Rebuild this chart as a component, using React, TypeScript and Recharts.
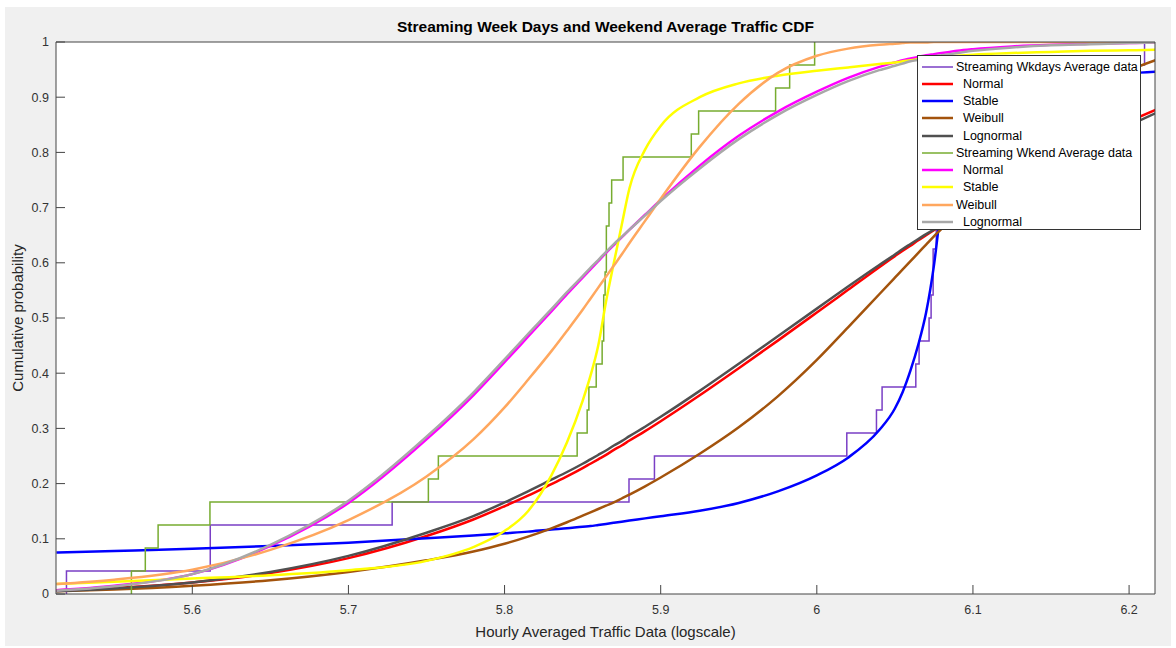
import React from 'react';
import { LineChart, Line, XAxis, YAxis, CartesianGrid, Legend } from 'recharts';

const FONT = '"Liberation Sans", Arial, Helvetica, sans-serif';

const xTicks = [5.6, 5.7, 5.8, 5.9, 6, 6.1, 6.2];
const yTicks = [0, 0.1, 0.2, 0.3, 0.4, 0.5, 0.6, 0.7, 0.8, 0.9, 1];
const xDomain = [5.5127, 6.2166];

// sorted hourly averages (log scale), 24 per group
const wkdaysObs = [
  5.5194, 5.6115, 5.6115, 5.728, 5.8797, 5.896, 6.0192, 6.0382, 6.0418, 6.0634, 6.0655, 6.0719,
  6.0732, 6.0745, 6.0745, 6.0765, 6.077, 6.0775, 6.078, 6.079, 6.08, 6.0805, 6.081, 6.2099,
];
const wkendObs = [
  5.561, 5.5699, 5.5781, 5.6113, 5.7512, 5.7576, 5.8465, 5.8529, 5.854, 5.8587, 5.8625, 5.8635,
  5.8635, 5.8644, 5.8652, 5.8652, 5.8669, 5.8686, 5.8759, 5.9196, 5.9243, 5.9736, 5.9826, 5.9986,
];
const cdfLevels = [
  0.0417, 0.0833, 0.125, 0.1667, 0.2083, 0.25, 0.2917, 0.3333, 0.375, 0.4167, 0.4583, 0.5,
  0.5417, 0.5833, 0.625, 0.6667, 0.7083, 0.75, 0.7917, 0.8333, 0.875, 0.9167, 0.9583, 1,
];

// fitted CDFs, read on a common x grid
const fitX = [
  5.513, 5.55, 5.6, 5.65, 5.7, 5.75, 5.78, 5.8, 5.815, 5.83, 5.84, 5.85, 5.855, 5.86, 5.865, 5.87,
  5.875, 5.88, 5.89, 5.9, 5.925, 5.95, 5.975, 6.0, 6.02, 6.04, 6.05, 6.055, 6.06, 6.065, 6.07,
  6.075, 6.08, 6.085, 6.09, 6.1, 6.125, 6.15, 6.175, 6.2, 6.217,
];
const wkdNormal = [
  0.007, 0.011, 0.021, 0.038, 0.065, 0.105, 0.135, 0.159, 0.178, 0.199, 0.213, 0.228, 0.236, 0.244,
  0.252, 0.261, 0.269, 0.278, 0.295, 0.313, 0.36, 0.409, 0.459, 0.51, 0.551, 0.592, 0.612, 0.622,
  0.631, 0.641, 0.65, 0.659, 0.668, 0.677, 0.686, 0.703, 0.745, 0.785, 0.822, 0.856, 0.877,
];
const wkdStable = [
  0.075, 0.078, 0.082, 0.087, 0.093, 0.101, 0.106, 0.11, 0.113, 0.117, 0.119, 0.122, 0.123, 0.125,
  0.127, 0.129, 0.131, 0.133, 0.137, 0.141, 0.151, 0.165, 0.186, 0.215, 0.247, 0.297, 0.336, 0.366,
  0.405, 0.452, 0.51, 0.595, 0.71, 0.79, 0.835, 0.875, 0.91, 0.926, 0.936, 0.943, 0.946,
];
const wkdWeibull = [
  0.005, 0.008, 0.015, 0.025, 0.04, 0.061, 0.077, 0.091, 0.104, 0.119, 0.13, 0.142, 0.148, 0.154,
  0.16, 0.166, 0.173, 0.18, 0.195, 0.211, 0.254, 0.302, 0.358, 0.424, 0.483, 0.543, 0.573, 0.588,
  0.603, 0.618, 0.633, 0.648, 0.662, 0.677, 0.691, 0.719, 0.789, 0.851, 0.905, 0.948, 0.967,
];
const wkdLognormal = [
  0.005, 0.01, 0.021, 0.04, 0.069, 0.111, 0.141, 0.166, 0.186, 0.207, 0.221, 0.236, 0.244, 0.252,
  0.26, 0.269, 0.277, 0.286, 0.303, 0.321, 0.368, 0.417, 0.467, 0.517, 0.557, 0.596, 0.615, 0.625,
  0.634, 0.643, 0.652, 0.66, 0.668, 0.677, 0.685, 0.701, 0.741, 0.779, 0.815, 0.849, 0.871,
];
const wkeNormal = [
  0.007, 0.015, 0.036, 0.087, 0.165, 0.28, 0.36, 0.42, 0.466, 0.512, 0.543, 0.573, 0.588, 0.603,
  0.618, 0.632, 0.646, 0.66, 0.687, 0.714, 0.776, 0.83, 0.874, 0.91, 0.935, 0.955, 0.963, 0.967,
  0.97, 0.973, 0.976, 0.978, 0.98, 0.982, 0.984, 0.987, 0.992, 0.995, 0.997, 0.998, 0.999,
];
const wkeStable = [
  0.018, 0.022, 0.028, 0.034, 0.043, 0.06, 0.085, 0.114, 0.15, 0.215, 0.275, 0.35, 0.395, 0.45,
  0.53, 0.6, 0.668, 0.735, 0.805, 0.848, 0.9, 0.925, 0.939, 0.948, 0.954, 0.96, 0.963, 0.965,
  0.967, 0.969, 0.971, 0.972, 0.973, 0.974, 0.975, 0.977, 0.98, 0.982, 0.984, 0.985, 0.986,
];
const wkeWeibull = [
  0.018, 0.026, 0.044, 0.08, 0.134, 0.213, 0.28, 0.338, 0.388, 0.44, 0.477, 0.515, 0.535, 0.555,
  0.575, 0.595, 0.615, 0.636, 0.676, 0.716, 0.81, 0.888, 0.944, 0.975, 0.988, 0.995, 0.997, 0.998,
  0.999, 0.999, 0.999, 1, 1, 1, 1, 1, 1, 1, 1, 1, 1,
];
const wkeLognormal = [
  0.006, 0.014, 0.036, 0.089, 0.169, 0.285, 0.365, 0.425, 0.471, 0.516, 0.547, 0.576, 0.591, 0.605,
  0.62, 0.634, 0.647, 0.66, 0.686, 0.712, 0.771, 0.824, 0.868, 0.904, 0.929, 0.949, 0.957, 0.961,
  0.965, 0.968, 0.971, 0.974, 0.976, 0.978, 0.98, 0.984, 0.99, 0.994, 0.996, 0.998, 0.999,
];

const COLORS = {
  wkdData: '#7A3FC5',
  wkdNormal: '#FF0000',
  wkdStable: '#0000FF',
  wkdWeibull: '#A3530C',
  wkdLognormal: '#505050',
  wkeData: '#77AC30',
  wkeNormal: '#FF00FF',
  wkeStable: '#FFFF00',
  wkeWeibull: '#FFA75E',
  wkeLognormal: '#A8A8A8',
};

const legendItems = [
  { label: 'Streaming Wkdays Average data', color: COLORS.wkdData, w: 1.5 },
  { label: '  Normal', color: COLORS.wkdNormal, w: 2.5 },
  { label: '  Stable', color: COLORS.wkdStable, w: 2.5 },
  { label: '  Weibull', color: COLORS.wkdWeibull, w: 2.5 },
  { label: '  Lognormal', color: COLORS.wkdLognormal, w: 2.5 },
  { label: 'Streaming Wkend Average data', color: COLORS.wkeData, w: 1.5 },
  { label: '  Normal', color: COLORS.wkeNormal, w: 2.5 },
  { label: '  Stable', color: COLORS.wkeStable, w: 2.5 },
  { label: 'Weibull', color: COLORS.wkeWeibull, w: 2.5 },
  { label: '  Lognormal', color: COLORS.wkeLognormal, w: 2.5 },
];

const stairs = (xs: number[], levels: number[]) => [
  { x: xs[0], y: 0 },
  ...xs.map((x, i) => ({ x, y: levels[i] })),
];
const wkdaysSteps = stairs(wkdaysObs, cdfLevels);
const wkendSteps = stairs(wkendObs, cdfLevels);

const fitRows = fitX.map((x, i) => ({
  x,
  wkdNormal: wkdNormal[i],
  wkdStable: wkdStable[i],
  wkdWeibull: wkdWeibull[i],
  wkdLognormal: wkdLognormal[i],
  wkeNormal: wkeNormal[i],
  wkeStable: wkeStable[i],
  wkeWeibull: wkeWeibull[i],
  wkeLognormal: wkeLognormal[i],
}));

function LegendBox() {
  return (
    <div
      style={{
        width: 222,
        height: 171,
        paddingTop: 2,
        border: '1px solid #333',
        background: '#fff',
        fontFamily: FONT,
        fontSize: 12.5,
        color: '#000',
      }}
    >
      {legendItems.map((item, i) => (
        <div key={i} style={{ display: 'flex', alignItems: 'center', height: 17.25 }}>
          <svg width={38} height={10} style={{ flex: 'none' }}>
            <line x1={4} x2={35} y1={5} y2={5} stroke={item.color} strokeWidth={item.w} />
          </svg>
          <span style={{ whiteSpace: 'pre' }}>{item.label}</span>
        </div>
      ))}
    </div>
  );
}

const fitLine = (key: keyof typeof COLORS) => (
  <Line
    key={key}
    dataKey={key}
    type="monotone"
    stroke={COLORS[key]}
    strokeWidth={2.5}
    dot={false}
    activeDot={false}
    isAnimationActive={false}
  />
);

export default function App() {
  const axisStroke = '#444';
  const tickStyle = { fill: '#333', fontSize: 12.5, fontFamily: FONT };
  return (
    <div style={{ position: 'absolute', left: 0, top: 0, width: 1176, height: 648, background: '#fff' }}>
      <div style={{ position: 'absolute', left: 5, top: 7, width: 1166, height: 639, background: '#f0f0f0' }} />
      <div
        style={{
          position: 'absolute',
          left: 56,
          width: 1099,
          top: 19,
          textAlign: 'center',
          fontFamily: FONT,
          fontWeight: 'bold',
          fontSize: 15.5,
          lineHeight: '16px',
          color: '#000',
        }}
      >
        Streaming Week Days and Weekend Average Traffic CDF
      </div>
      <div style={{ position: 'absolute', left: 0, top: 0 }}>
        <LineChart width={1176} height={648} data={fitRows} margin={{ top: 41, right: 20, bottom: 0, left: 0 }}>
          <CartesianGrid horizontal={false} vertical={false} fill="#fff" />
          <XAxis
            type="number"
            dataKey="x"
            domain={xDomain}
            allowDataOverflow
            ticks={xTicks}
            height={54}
            tickSize={-9}
            tickMargin={20}
            axisLine={{ stroke: axisStroke }}
            tickLine={{ stroke: axisStroke }}
            tick={tickStyle}
            label={{
              value: 'Hourly Averaged Traffic Data (logscale)',
              position: 'insideBottom',
              offset: 11,
              fill: '#262626',
              fontSize: 15,
              fontFamily: FONT,
            }}
          />
          <XAxis
            xAxisId="top"
            orientation="top"
            type="number"
            dataKey="x"
            domain={xDomain}
            allowDataOverflow
            ticks={xTicks}
            height={1}
            tickSize={-9}
            tick={false}
            axisLine={{ stroke: axisStroke }}
            tickLine={{ stroke: axisStroke }}
          />
          <YAxis
            type="number"
            domain={[0, 1]}
            allowDataOverflow
            ticks={yTicks}
            width={56}
            tickSize={-9}
            tickMargin={16}
            axisLine={{ stroke: axisStroke }}
            tickLine={{ stroke: axisStroke }}
            tick={tickStyle}
            label={{
              value: 'Cumulative probability',
              angle: -90,
              position: 'insideLeft',
              offset: 18,
              fill: '#262626',
              fontSize: 15,
              fontFamily: FONT,
              style: { textAnchor: 'middle' },
            }}
          />
          <YAxis
            yAxisId="right"
            orientation="right"
            type="number"
            domain={[0, 1]}
            allowDataOverflow
            ticks={yTicks}
            width={1}
            tickSize={-9}
            tick={false}
            axisLine={{ stroke: axisStroke }}
            tickLine={{ stroke: axisStroke }}
          />
          <Line
            data={wkdaysSteps}
            dataKey="y"
            type="stepAfter"
            stroke={COLORS.wkdData}
            strokeWidth={1.5}
            dot={false}
            activeDot={false}
            isAnimationActive={false}
          />
          {fitLine('wkdNormal')}
          {fitLine('wkdStable')}
          {fitLine('wkdWeibull')}
          {fitLine('wkdLognormal')}
          <Line
            data={wkendSteps}
            dataKey="y"
            type="stepAfter"
            stroke={COLORS.wkeData}
            strokeWidth={1.5}
            dot={false}
            activeDot={false}
            isAnimationActive={false}
          />
          {fitLine('wkeNormal')}
          {fitLine('wkeStable')}
          {fitLine('wkeWeibull')}
          {fitLine('wkeLognormal')}
          <Legend
            layout="vertical"
            align="center"
            verticalAlign="middle"
            content={() => <LegendBox />}
            wrapperStyle={{ left: 917, top: 55, width: 224, height: 175 }}
          />
        </LineChart>
      </div>
    </div>
  );
}
